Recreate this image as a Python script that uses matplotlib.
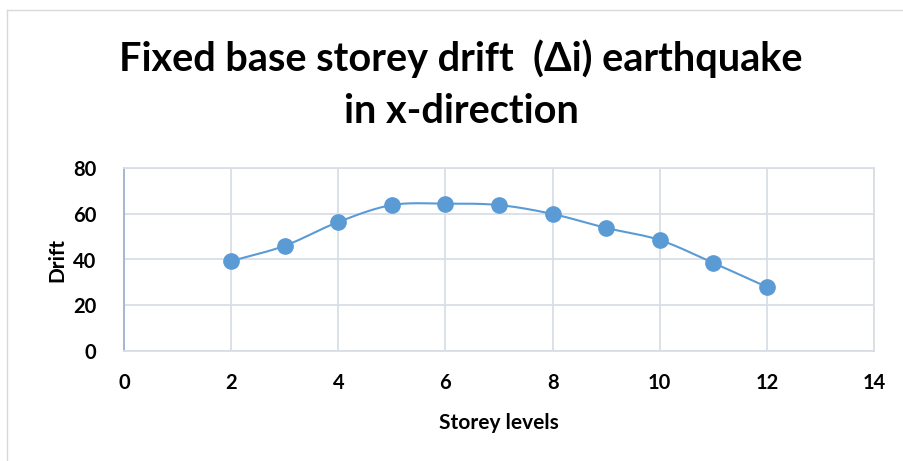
import numpy as np
import matplotlib
matplotlib.use('Agg')
import matplotlib.pyplot as plt

# storey drift data
storey = [2, 3, 4, 5, 6, 7, 8, 9, 10, 11, 12]
drift = [39.3, 46.0, 56.4, 63.8, 64.4, 63.8, 59.9, 53.8, 48.5, 38.5, 28.0]

title = 'Fixed base storey drift  (\u0394i) earthquake\nin x-direction'
xticks = [0, 2, 4, 6, 8, 10, 12, 14]
yticks = [0, 20, 40, 60, 80]

blue = '#5B9BD5'
grid_col = '#D9DEE6'

plt.rcParams['font.family'] = ['Lato', 'DejaVu Sans']


def smooth(x, y, n=30):
    # excel-like smoothed line (catmull-rom through the points)
    x = np.asarray(x, float)
    y = np.asarray(y, float)
    px = np.concatenate([[2 * x[0] - x[1]], x, [2 * x[-1] - x[-2]]])
    py = np.concatenate([[2 * y[0] - y[1]], y, [2 * y[-1] - y[-2]]])
    t = np.linspace(0, 1, n)[:, None]
    xs, ys = [], []
    for i in range(1, len(px) - 2):
        for arr, out in ((px, xs), (py, ys)):
            p0, p1, p2, p3 = arr[i - 1], arr[i], arr[i + 1], arr[i + 2]
            seg = 0.5 * ((2 * p1) + (-p0 + p2) * t + (2 * p0 - 5 * p1 + 4 * p2 - p3) * t ** 2
                         + (-p0 + 3 * p1 - 3 * p2 + p3) * t ** 3)
            out.append(seg.ravel())
    return np.concatenate(xs), np.concatenate(ys)


fig = plt.figure(figsize=(9.04, 4.61), dpi=100)
ax = fig.add_axes([124 / 904, 1 - 351 / 461, 750 / 904, 183 / 461])

sx, sy = smooth(storey, drift)
ax.plot(sx, sy, color=blue, lw=1.5, zorder=3)
ax.plot(storey, drift, 'o', color=blue, ms=11, zorder=4)

ax.set_xlim(0, 14)
ax.set_ylim(0, 80)
ax.set_xticks(xticks)
ax.set_yticks(yticks)
ax.grid(True, color=grid_col, lw=1.3)
ax.set_axisbelow(True)
ax.tick_params(length=0, labelsize=14.5)
ax.tick_params(axis='x', pad=16)
ax.tick_params(axis='y', pad=20)
for lab in ax.get_xticklabels() + ax.get_yticklabels():
    lab.set_fontweight('bold')

for s in ['top', 'right']:
    ax.spines[s].set_color(grid_col)
    ax.spines[s].set_linewidth(1.3)
ax.spines['bottom'].set_color(grid_col)
ax.spines['bottom'].set_linewidth(1.3)
ax.spines['left'].set_color('#9DB3D0')
ax.spines['left'].set_linewidth(1.3)

ax.set_xlabel('Storey levels', fontsize=15, fontweight='bold', labelpad=14)
ax.set_ylabel('Drift', fontsize=15, fontweight='bold', labelpad=4)

fig.text(461 / 904, 1 - 85 / 461, title, ha='center', va='center', fontsize=28.5,
         fontweight='bold', linespacing=1.5)

# chart border
fig.add_artist(plt.Line2D([7 / 904, 7 / 904], [0, 1 - 10 / 461], color='#D9D9D9', lw=1))
fig.add_artist(plt.Line2D([7 / 904, 1], [1 - 10 / 461, 1 - 10 / 461], color='#D9D9D9', lw=1))

fig.savefig('out.png', dpi=100)
